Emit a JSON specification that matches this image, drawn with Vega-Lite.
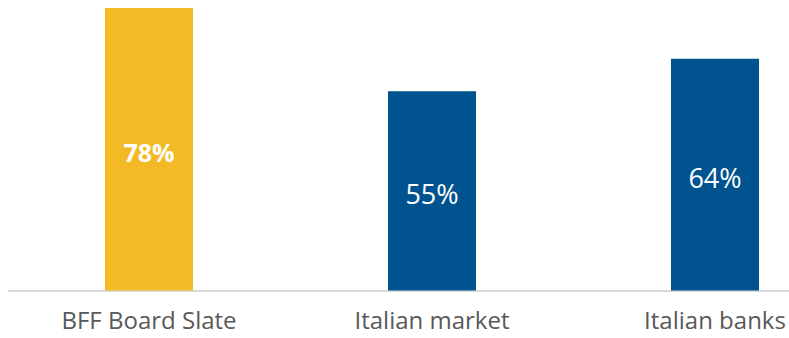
{
  "$schema": "https://vega.github.io/schema/vega-lite/v6.json",
  "autosize": {"type": "none"},
  "width": 789,
  "height": 282.5,
  "padding": {"left": 0, "right": 0, "top": 8, "bottom": 47.5},
  "background": "white",
  "config": {"view": {"stroke": null}, "font": "Open Sans"},
  "data": {"values": [
    {"category": "BFF Board Slate", "value": 78, "label": "78%", "group": "BFF"},
    {"category": "Italian market", "value": 55, "label": "55%", "group": "Other"},
    {"category": "Italian banks", "value": 64, "label": "64%", "group": "Other"}
  ]},
  "transform": [{"calculate": "datum.value / 2", "as": "mid"}],
  "encoding": {
    "x": {"field": "category", "type": "nominal", "sort": null,
      "scale": {"range": [7.5, 856.5], "paddingInner": 0.689, "paddingOuter": 0.3445},
      "axis": {"title": null, "ticks": false, "domainColor": "#d9d9d9", "domainWidth": 2,
        "labelFont": "Open Sans", "labelFontSize": 24, "labelColor": "#595959",
        "labelBaseline": "alphabetic", "labelPadding": 38, "labelAngle": 0}}
  },
  "layer": [
    {
      "mark": {"type": "bar"},
      "encoding": {
        "y": {"field": "value", "type": "quantitative", "scale": {"domain": [0, 78], "nice": false}, "axis": null},
        "color": {"field": "group", "type": "nominal", "scale": {"domain": ["BFF", "Other"], "range": ["#F4BA26", "#00538F"]}, "legend": null}
      }
    },
    {
      "transform": [{"filter": "datum.group === 'BFF'"}],
      "mark": {"type": "text", "color": "white", "fontSize": 25, "fontWeight": "bold", "baseline": "middle", "dy": 5, "font": "Open Sans"},
      "encoding": {
        "y": {"field": "mid", "type": "quantitative", "scale": {"domain": [0, 78], "nice": false}},
        "text": {"field": "label"}
      }
    },
    {
      "transform": [{"filter": "datum.group !== 'BFF'"}],
      "mark": {"type": "text", "color": "white", "fontSize": 27, "baseline": "middle", "dy": 5, "font": "Open Sans"},
      "encoding": {
        "y": {"field": "mid", "type": "quantitative", "scale": {"domain": [0, 78], "nice": false}},
        "text": {"field": "label"}
      }
    }
  ]
}
